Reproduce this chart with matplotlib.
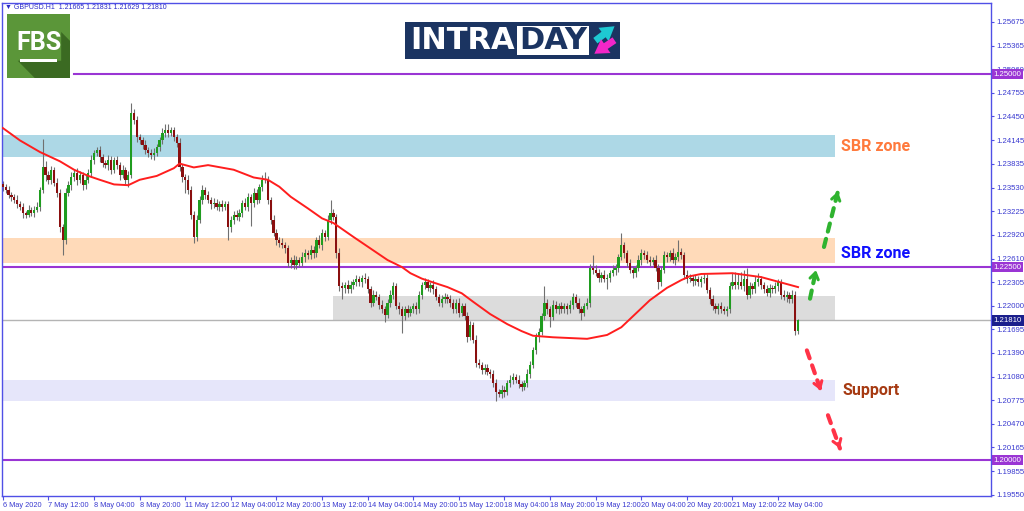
import matplotlib
matplotlib.use("Agg")
import matplotlib.pyplot as plt
import numpy as np
from matplotlib.patches import Rectangle, Polygon

plt.rcParams["font.family"] = ["DejaVu Sans"]

# GBPUSD H1, bars from 6 May 20:00 to 22 May 11:00
first_open = 1.2358
closes = [
    1.2354, 1.2350, 1.2343, 1.2341, 1.2337, 1.2331, 1.2328, 1.2320, 1.2318, 1.2324,
    1.2320, 1.2324, 1.2328, 1.2350, 1.2379, 1.2369, 1.2363, 1.2376, 1.2359, 1.2346,
    1.2302, 1.2285, 1.2346, 1.2356, 1.2366, 1.2372, 1.2363, 1.2369, 1.2356, 1.2363,
    1.2372, 1.2389, 1.2398, 1.2401, 1.2392, 1.2385, 1.2382, 1.2389, 1.2376, 1.2389,
    1.2382, 1.2369, 1.2376, 1.2363, 1.2369, 1.2449, 1.2440, 1.2418, 1.2414, 1.2408,
    1.2401, 1.2398, 1.2395, 1.2398, 1.2405, 1.2414, 1.2424, 1.2427, 1.2424, 1.2427,
    1.2418, 1.2411, 1.2379, 1.2366, 1.2363, 1.2350, 1.2318, 1.2289, 1.2311, 1.2337,
    1.2350, 1.2343, 1.2337, 1.2331, 1.2333, 1.2328, 1.2331, 1.2328, 1.2331, 1.2302,
    1.2311, 1.2318, 1.2315, 1.2320, 1.2333, 1.2328, 1.2341, 1.2333, 1.2346, 1.2337,
    1.2354, 1.2363, 1.2363, 1.2337, 1.2311, 1.2294, 1.2285, 1.2281, 1.2278, 1.2274,
    1.2255, 1.2259, 1.2253, 1.2259, 1.2255, 1.2263, 1.2268, 1.2265, 1.2272, 1.2268,
    1.2285, 1.2278, 1.2294, 1.2289, 1.2311, 1.2320, 1.2315, 1.2268, 1.2225, 1.2223,
    1.2227, 1.2221, 1.2227, 1.2230, 1.2234, 1.2230, 1.2236, 1.2234, 1.2221, 1.2204,
    1.2214, 1.2211, 1.2201, 1.2195, 1.2188, 1.2204, 1.2214, 1.2225, 1.2199, 1.2195,
    1.2186, 1.2195, 1.2191, 1.2195, 1.2199, 1.2195, 1.2214, 1.2227, 1.2230, 1.2223,
    1.2227, 1.2221, 1.2211, 1.2204, 1.2208, 1.2211, 1.2208, 1.2204, 1.2195, 1.2204,
    1.2191, 1.2199, 1.2186, 1.2159, 1.2175, 1.2156, 1.2126, 1.2123, 1.2117, 1.2119,
    1.2114, 1.2111, 1.2100, 1.2088, 1.2085, 1.2091, 1.2088, 1.2100, 1.2104, 1.2108,
    1.2104, 1.2098, 1.2095, 1.2100, 1.2112, 1.2123, 1.2142, 1.2159, 1.2166, 1.2186,
    1.2204, 1.2195, 1.2185, 1.2201, 1.2195, 1.2199, 1.2195, 1.2199, 1.2195, 1.2201,
    1.2211, 1.2204, 1.2195, 1.2191, 1.2199, 1.2204, 1.2249, 1.2246, 1.2242, 1.2236,
    1.2240, 1.2234, 1.2236, 1.2242, 1.2246, 1.2249, 1.2263, 1.2278, 1.2268, 1.2255,
    1.2246, 1.2242, 1.2249, 1.2259, 1.2268, 1.2265, 1.2259, 1.2257, 1.2259, 1.2249,
    1.2230, 1.2246, 1.2265, 1.2263, 1.2268, 1.2259, 1.2263, 1.2270, 1.2265, 1.2240,
    1.2234, 1.2236, 1.2232, 1.2234, 1.2230, 1.2234, 1.2236, 1.2220, 1.2208, 1.2199,
    1.2195, 1.2199, 1.2195, 1.2193, 1.2195, 1.2225, 1.2230, 1.2227, 1.2230, 1.2225,
    1.2234, 1.2214, 1.2225, 1.2221, 1.2230, 1.2234, 1.2227, 1.2221, 1.2217, 1.2223,
    1.2221, 1.2225, 1.2230, 1.2214, 1.2211, 1.2214, 1.2208, 1.2214, 1.2167, 1.2181,
]
# shadows above / below the body, in pips
wick_up = [
    4, 3, 5, 4, 3, 6, 4, 5, 3, 6, 4, 5, 6, 4, 37, 8, 6, 5, 4, 6,
    5, 4, 6, 5, 7, 4, 6, 5, 4, 6, 5, 6, 4, 5, 6, 5, 4, 6, 5, 4,
    5, 4, 6, 4, 5, 13, 6, 5, 4, 5, 6, 4, 5, 6, 5, 4, 6, 8, 8, 5,
    5, 4, 6, 5, 4, 6, 5, 4, 6, 5, 6, 4, 5, 4, 6, 5, 4, 6, 5, 4,
    5, 4, 6, 5, 4, 6, 5, 4, 6, 5, 4, 6, 10, 5, 4, 6, 5, 4, 6, 5,
    5, 4, 6, 5, 4, 6, 5, 4, 6, 5, 4, 6, 5, 4, 6, 17, 5, 4, 6, 5,
    4, 6, 5, 4, 6, 5, 4, 6, 5, 4, 6, 5, 4, 6, 5, 4, 6, 5, 4, 6,
    5, 4, 6, 5, 4, 6, 5, 4, 6, 5, 4, 6, 5, 4, 6, 5, 4, 6, 5, 4,
    6, 5, 4, 6, 5, 4, 6, 5, 4, 6, 5, 4, 6, 5, 4, 6, 5, 4, 6, 5,
    4, 6, 5, 4, 6, 5, 4, 6, 5, 4, 21, 5, 4, 6, 5, 4, 6, 5, 4, 6,
    5, 4, 6, 5, 4, 6, 5, 16, 6, 5, 4, 6, 5, 4, 6, 5, 4, 16, 5, 4,
    6, 5, 4, 6, 5, 4, 6, 5, 4, 6, 5, 4, 6, 5, 4, 6, 5, 15, 5, 4,
    6, 5, 4, 6, 5, 4, 6, 5, 4, 6, 5, 4, 6, 5, 4, 6, 12, 14, 12, 13,
    12, 15, 5, 4, 8, 8, 5, 4, 6, 5, 4, 6, 5, 4, 6, 5, 4, 6, 5, 2,
]
wick_dn = [
    5, 4, 3, 6, 4, 5, 4, 6, 5, 3, 4, 5, 3, 6, 4, 8, 5, 6, 4, 5,
    6, 20, 5, 4, 6, 5, 7, 4, 6, 5, 4, 6, 5, 4, 6, 5, 4, 6, 5, 4,
    5, 6, 4, 6, 9, 4, 5, 6, 4, 5, 4, 6, 5, 6, 4, 5, 4, 6, 5, 4,
    5, 6, 4, 6, 17, 5, 6, 8, 5, 4, 6, 5, 4, 6, 5, 4, 6, 5, 4, 17,
    6, 5, 4, 6, 5, 4, 6, 30, 5, 6, 4, 5, 4, 6, 5, 4, 6, 5, 4, 6,
    5, 6, 5, 6, 5, 4, 6, 5, 4, 6, 5, 4, 6, 5, 4, 5, 4, 6, 6, 15,
    6, 5, 4, 6, 5, 4, 6, 5, 4, 6, 5, 4, 6, 5, 9, 4, 6, 5, 4, 6,
    22, 5, 6, 4, 5, 6, 4, 5, 6, 4, 5, 6, 4, 5, 6, 4, 5, 6, 4, 5,
    6, 4, 5, 6, 4, 5, 6, 4, 5, 6, 4, 5, 6, 12, 4, 5, 6, 4, 5, 6,
    4, 5, 6, 4, 5, 6, 4, 5, 6, 4, 5, 6, 13, 4, 5, 6, 4, 5, 6, 4,
    5, 6, 4, 10, 5, 4, 6, 5, 4, 6, 5, 4, 13, 5, 4, 6, 5, 4, 6, 5,
    4, 6, 5, 4, 6, 5, 4, 6, 5, 4, 9, 5, 4, 6, 5, 4, 6, 5, 4, 6,
    5, 4, 6, 5, 4, 6, 5, 4, 6, 5, 4, 6, 5, 4, 7, 5, 4, 6, 5, 4,
    6, 5, 4, 6, 5, 4, 6, 5, 4, 6, 5, 4, 6, 5, 4, 6, 5, 4, 5, 4,
]

# moving average (read at a number of bars)
ma_pos = [0, 6, 13, 20, 25, 30, 34, 39, 44, 48, 54, 60, 62, 67, 72, 81, 88, 93, 97, 101,
          107, 112, 116, 123, 131, 135, 140, 143, 147, 151, 156, 161, 165, 171, 177, 182,
          186, 193, 199, 205, 212, 217, 221, 227, 233, 238, 241, 245, 256, 266, 273, 279]
ma_val = [1.2430, 1.2414, 1.2399, 1.2387, 1.2376, 1.2368, 1.2363, 1.2357, 1.2356, 1.2363,
          1.2368, 1.2378, 1.2384, 1.2379, 1.2382, 1.2376, 1.2366, 1.2363, 1.2354, 1.2341,
          1.2326, 1.2313, 1.2307, 1.2289, 1.2269, 1.2259, 1.2250, 1.2242, 1.2235, 1.2230,
          1.2224, 1.2216, 1.2205, 1.2189, 1.2176, 1.2167, 1.2161, 1.2159, 1.2158, 1.2157,
          1.2162, 1.2172, 1.2186, 1.2207, 1.2223, 1.2233, 1.2238, 1.2241, 1.2242, 1.2237,
          1.2230, 1.2224]

blue_zone = (1.2392, 1.2421)
peach_zone = (1.2255, 1.2287)
grey_zone = (1.2182, 1.2213)
support_zone = (1.2077, 1.2104)
zone_end = 292
grey_start = 116

levels = [1.25000, 1.22500, 1.20000]
level_start = [25, -1, -1]
current_price = 1.21810

y_ticks = [1.25675, 1.25365, 1.25060, 1.24755, 1.24450, 1.24145, 1.23835, 1.23530,
           1.23225, 1.22920, 1.22610, 1.22305, 1.22000, 1.21695, 1.21390, 1.21080,
           1.20775, 1.20470, 1.20165, 1.19855, 1.19550]
date_pos = [0, 16, 32, 48, 64, 80, 96, 112, 128, 144, 160, 176, 192, 208, 224, 240, 256, 272]
date_labels = ["6 May 2020", "7 May 12:00", "8 May 04:00", "8 May 20:00", "11 May 12:00",
               "12 May 04:00", "12 May 20:00", "13 May 12:00", "14 May 04:00", "14 May 20:00",
               "15 May 12:00", "18 May 04:00", "18 May 20:00", "19 May 12:00", "20 May 04:00",
               "20 May 20:00", "21 May 12:00", "22 May 04:00"]
header = "\u25bc GBPUSD.H1  1.21665 1.21831 1.21629 1.21810"

# ---------------------------------------------------------------
W, H = 1024, 511
fig = plt.figure(figsize=(W / 100, H / 100), dpi=100)
ax = fig.add_axes([2 / W, 15 / H, 989 / W, 493 / H])
axis_blue = "#5050e6"
label_blue = "#3a3ad0"
fam = ["Liberation Sans", "DejaVu Sans"]
x_font = dict(family=fam, size=5.3)
y_font = dict(family=fam, size=5.6)

closes_a = np.array(closes)
opens_a = np.concatenate([[first_open], closes_a[:-1]])
idx = np.arange(len(closes_a))
top = np.maximum(opens_a, closes_a)
bot = np.minimum(opens_a, closes_a)
highs = top + np.array(wick_up) * 1e-4
lows = bot - np.array(wick_dn) * 1e-4

# zones
for (lo, hi), start, col in [(blue_zone, -1, "#add8e6"), (peach_zone, -1, "#ffdab9"),
                             (grey_zone, grey_start, "#dcdcdc"), (support_zone, -1, "#e6e6fa")]:
    ax.add_patch(Rectangle((start, lo), zone_end - start, hi - lo, color=col, lw=0, zorder=1))

ax.axhline(current_price, color="#b4b4b4", lw=1.0, zorder=1.5)
for lvl, start in zip(levels, level_start):
    ax.plot([start, 400], [lvl, lvl], color="#9a35d4", lw=1.5, zorder=1.6)

# candles
ax.vlines(idx, lows, highs, color="#707070", lw=0.8, zorder=2)
body_col = np.where(closes_a >= opens_a, "#1f9c1f", "#8a0f0f")
ax.bar(idx, np.maximum(top - bot, 0.00004), bottom=bot, width=0.8,
       color=body_col, lw=0, zorder=3)

ax.plot(ma_pos, ma_val, color="#ff1e1e", lw=1.4, zorder=4, solid_joinstyle="round")

# forecast arrows
arrows = [((283.2, 1.2209), (285.3, 1.2246), "#2fb32f"),
          ((288.1, 1.2276), (293.0, 1.2348), "#2fb32f"),
          ((282.1, 1.2142), (287.0, 1.2090), "#ff3347"),
          ((289.5, 1.2058), (293.7, 1.2015), "#ff3347")]
for (x0, y0), (x1, y1), col in arrows:
    ax.annotate("", xy=(x1, y1), xytext=(x0, y0),
                arrowprops=dict(arrowstyle="-", color=col, lw=3, linestyle=(0, (2, 1.8)),
                                shrinkA=0, shrinkB=0), zorder=5)
    ax.annotate("", xy=(x1, y1), xytext=(x1 - (x1 - x0) * 0.15, y1 - (y1 - y0) * 0.15),
                arrowprops=dict(arrowstyle="->,head_length=0.45,head_width=0.3", color=col,
                                lw=2.2, shrinkA=0, shrinkB=0), zorder=5)

ax.text(294, sum(blue_zone) / 2, "SBR zone", color="#ff7a3d", fontsize=11.5,
        fontweight="bold", family="Roboto", va="center")
ax.text(294, 1.2268, "SBR zone", color="#1010ff", fontsize=11.5,
        fontweight="bold", family="Roboto", va="center")
ax.text(294.5, sum(support_zone) / 2, "Support", color="#a63a12", fontsize=11.5,
        fontweight="bold", family="Roboto", va="center")

ax.set_xlim(-0.3, 346.7)
ax.set_ylim(1.19534, 1.25920)

for s in ax.spines.values():
    s.set_color(axis_blue)
    s.set_linewidth(1.0)

ax.yaxis.tick_right()
ax.set_yticks(y_ticks)
ax.set_yticklabels([f"{t:.5f}" for t in y_ticks], fontdict=y_font)
ax.tick_params(axis="y", length=2.5, width=0.8, color=axis_blue,
               labelcolor=label_blue, pad=1.2)
ax.set_xticks(date_pos)
ax.set_xticklabels(date_labels, fontdict=x_font)
ax.tick_params(axis="x", length=3, width=0.8, color=axis_blue,
               labelcolor=label_blue, pad=1.2)
for lab in ax.get_xticklabels():
    lab.set_horizontalalignment("left")

for lvl, bg in [(1.25000, "#9a35d4"), (1.22500, "#9a35d4"), (1.20000, "#9a35d4"),
                (current_price, "#1b1f8c")]:
    ax.text(1.0025, lvl, f"{lvl:.5f}", transform=ax.get_yaxis_transform(), **y_font,
            color="white", va="center", ha="left", clip_on=False, zorder=10,
            bbox=dict(boxstyle="square,pad=0.25", fc=bg, ec="none"))

fig.text(5 / W, 1 - 7 / H, header, color="#2a2ac8", va="center", family=fam, size=5.0)

# FBS logo
lg = fig.add_axes([7 / W, 1 - 78 / H, 63 / W, 64 / H])
lg.set_xlim(0, 1)
lg.set_ylim(0, 1)
lg.axis("off")
lg.add_patch(Rectangle((0, 0), 1, 1, color="#5b9639", lw=0))
lg.add_patch(Polygon([(0.17, 0.27), (0.86, 0.27), (0.86, 0.72), (1, 0.58), (1, 0), (0.44, 0)],
                     closed=True, color="#3b6a22", lw=0))
lg.text(0.51, 0.55, "FBS", color="white", fontsize=18, fontweight="bold",
        family="Roboto", ha="center", va="center")
lg.add_patch(Rectangle((0.2, 0.25), 0.6, 0.05, color="white", lw=0))

# INTRADAY banner
bn = fig.add_axes([405 / W, 1 - 59 / H, 215 / W, 37 / H])
bn.set_xlim(0, 1)
bn.set_ylim(0, 1)
bn.axis("off")
bn.add_patch(Rectangle((0, 0), 1, 1, color="#1b3461", lw=0))
bn.add_patch(Rectangle((0.52, 0.11), 0.335, 0.78, color="white", lw=0))
bn.text(0.025, 0.5, "INTRA", color="white", fontsize=22, fontweight="bold",
        family="DejaVu Sans", ha="left", va="center")
bn.text(0.688, 0.5, "DAY", color="#1b3461", fontsize=22, fontweight="bold",
        family="DejaVu Sans", ha="center", va="center")
bn.annotate("", xy=(0.985, 0.93), xytext=(0.875, 0.45),
            arrowprops=dict(arrowstyle="simple,head_width=1.1,head_length=0.9,tail_width=0.45",
                            color="#1ec9d3", lw=0, mutation_scale=11))
bn.annotate("", xy=(0.87, 0.1), xytext=(0.985, 0.55),
            arrowprops=dict(arrowstyle="simple,head_width=1.1,head_length=0.9,tail_width=0.45",
                            color="#f226c8", lw=0, mutation_scale=11))

fig.savefig("out.png", dpi=100)
